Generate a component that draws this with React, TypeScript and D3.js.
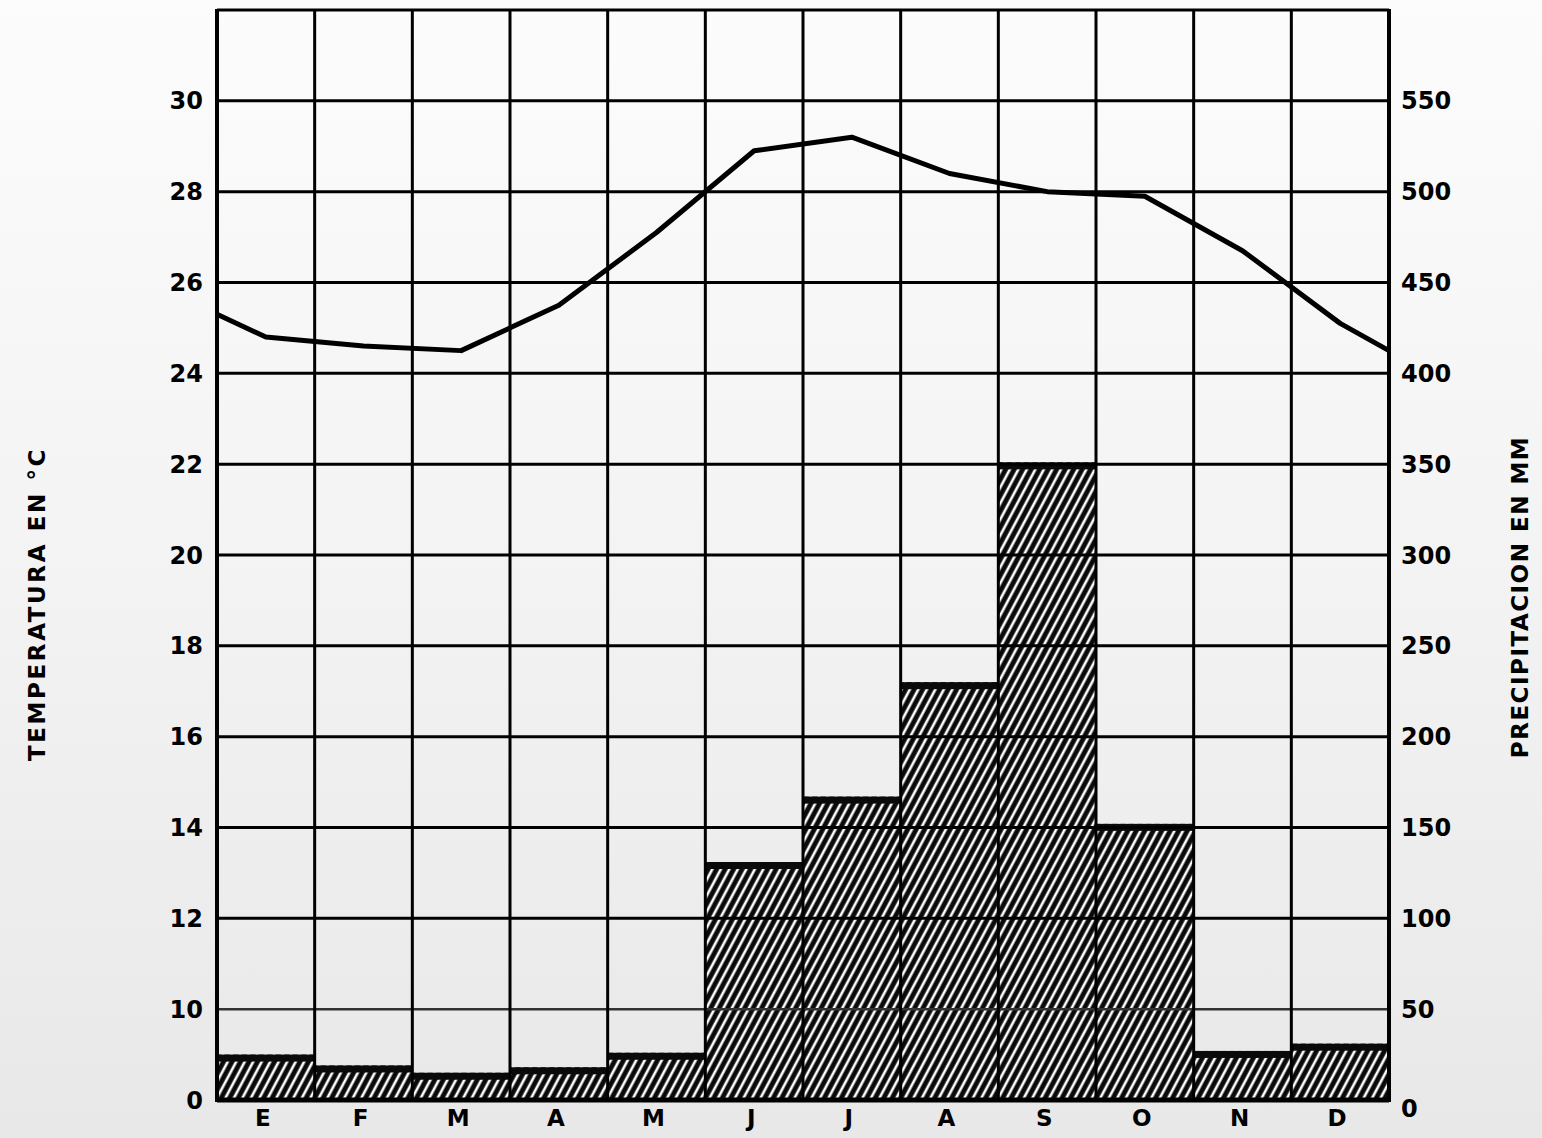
import React from 'react';
import * as d3 from 'd3';

// Meses (E = enero ... D = diciembre)
const months = ['E', 'F', 'M', 'A', 'M', 'J', 'J', 'A', 'S', 'O', 'N', 'D'];

// Precipitación mensual en mm
const precipitation = [25, 19, 15, 18, 26, 131, 167, 230, 351, 152, 27, 31];

// Temperatura media mensual en °C
const temperature = [24.8, 24.6, 24.5, 25.5, 27.1, 28.9, 29.2, 28.4, 28.0, 27.9, 26.7, 25.1];

// Temperatura en los bordes del gráfico (inicio enero / fin diciembre)
const tempAtLeftEdge = 25.3;
const tempAtRightEdge = 24.5;

// Etiquetas de los ejes
const tempTicks = [0, 10, 12, 14, 16, 18, 20, 22, 24, 26, 28, 30];
const precipTicks = [0, 50, 100, 150, 200, 250, 300, 350, 400, 450, 500, 550];

const W = 1542;
const H = 1138;
const left = 217;
const right = 1389;
const bottom = 1100;
const top = 10;

const App = () => {
  const x = d3.scaleBand<number>()
    .domain(d3.range(months.length))
    .range([left, right])
    .padding(0);

  const yMm = d3.scaleLinear()
    .domain([0, 600])
    .range([bottom, top]);

  // Escala de temperatura rota: 0–10 °C ocupa lo mismo que 0–50 mm
  const yTemp = d3.scaleLinear()
    .domain([0, 10, 32])
    .range([yMm(0), yMm(50), yMm(600)]);

  const bw = x.bandwidth();
  const mid = (i: number) => (x(i) as number) + bw / 2;

  const linePoints: [number, number][] = [
    [left, yTemp(tempAtLeftEdge)],
    ...temperature.map((t, i) => [mid(i), yTemp(t)] as [number, number]),
    [right, yTemp(tempAtRightEdge)],
  ];
  const tempPath = d3.line()(linePoints) || '';

  const font = '"DejaVu Sans", Verdana, sans-serif';

  return (
    <svg
      width={W}
      height={H}
      style={{ position: 'absolute', left: 0, top: 0, display: 'block' }}
      fontFamily={font}
    >
      <defs>
        <linearGradient id="paper" x1="0" y1="0" x2="0" y2="1">
          <stop offset="0" stopColor="#fcfcfc" />
          <stop offset="0.5" stopColor="#f3f3f3" />
          <stop offset="1" stopColor="#e8e8e8" />
        </linearGradient>
        <pattern
          id="hatch"
          width={7.5}
          height={7.5}
          patternUnits="userSpaceOnUse"
          patternTransform="rotate(28)"
        >
          <rect width={7.5} height={7.5} fill="#0a0a0a" />
          <line x1={2} y1={0} x2={2} y2={7.5} stroke="#ffffff" strokeWidth={2.6} />
        </pattern>
      </defs>

      <rect width={W} height={H} fill="url(#paper)" />

      {/* Barras de precipitación */}
      {precipitation.map((p, i) => {
        const x0 = x(i) as number;
        const yTop = yMm(p);
        return (
          <g key={`bar-${i}`}>
            <rect x={x0} y={yTop} width={bw} height={bottom - yTop} fill="url(#hatch)" />
            <rect x={x0} y={yTop} width={bw} height={7} fill="#0a0a0a" />
          </g>
        );
      })}

      {/* Cuadrícula horizontal */}
      {precipTicks.map((v) => (
        <line
          key={`h-${v}`}
          x1={left}
          x2={right}
          y1={yMm(v)}
          y2={yMm(v)}
          stroke={v === 50 ? '#333' : '#000'}
          strokeWidth={v === 0 ? 5 : v === 50 ? 2.5 : 3}
        />
      ))}
      <line x1={left} x2={right} y1={yMm(600)} y2={yMm(600)} stroke="#000" strokeWidth={3} />

      {/* Cuadrícula vertical */}
      {d3.range(months.length + 1).map((i) => {
        const xv = i === months.length ? right : (x(i) as number);
        return (
          <line
            key={`v-${i}`}
            x1={xv}
            x2={xv}
            y1={yMm(600) - 1}
            y2={bottom + 2}
            stroke="#000"
            strokeWidth={i === 0 || i === months.length ? 4 : 3}
          />
        );
      })}

      {/* Curva de temperatura */}
      <path d={tempPath} fill="none" stroke="#000" strokeWidth={5} strokeLinejoin="round" />

      {/* Eje izquierdo: temperatura */}
      {tempTicks.map((t) => (
        <text
          key={`lt-${t}`}
          x={left - 14}
          y={yTemp(t)}
          dy="0.36em"
          textAnchor="end"
          fontSize={24}
          fontWeight="bold"
          fill="#000"
        >
          {t}
        </text>
      ))}

      {/* Eje derecho: precipitación */}
      {precipTicks.map((v) => (
        <text
          key={`rt-${v}`}
          x={right + 12}
          y={yMm(v) + (v === 0 ? 8 : 0)}
          dy="0.36em"
          textAnchor="start"
          fontSize={24}
          fontWeight="bold"
          fill="#000"
        >
          {v}
        </text>
      ))}

      {/* Meses */}
      {months.map((m, i) => (
        <text
          key={`m-${i}`}
          x={mid(i) - 3}
          y={bottom + 26}
          textAnchor="middle"
          fontSize={23}
          fontWeight="bold"
          fill="#000"
        >
          {m}
        </text>
      ))}

      {/* Títulos de los ejes */}
      <text
        transform={`translate(45,604) rotate(-90)`}
        textAnchor="middle"
        fontSize={23}
        fontWeight="bold"
        letterSpacing={2.6}
        fill="#000"
      >
        TEMPERATURA EN °C
      </text>
      <text
        transform={`translate(1528,597) rotate(-90)`}
        textAnchor="middle"
        fontSize={23}
        fontWeight="bold"
        letterSpacing={1.5}
        fill="#000"
      >
        PRECIPITACION EN MM
      </text>
    </svg>
  );
};

export default App;
